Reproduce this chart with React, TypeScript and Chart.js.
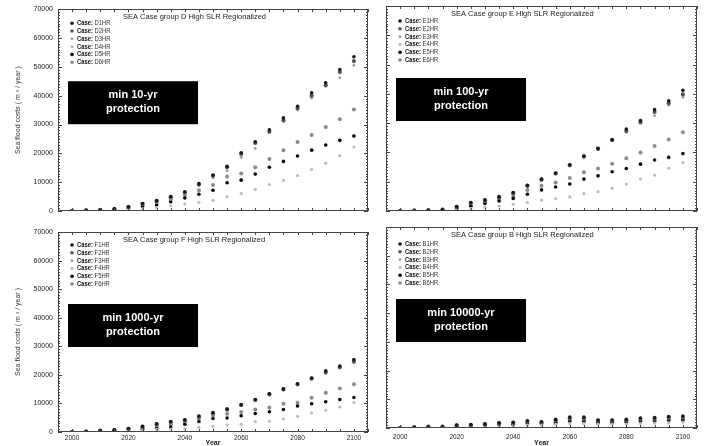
import React, { useEffect, useRef } from 'react';
import { Chart, registerables } from 'chart.js';

Chart.register(...registerables);

// ---------- data ----------
const years = [2000, 2005, 2010, 2015, 2020, 2025, 2030, 2035, 2040, 2045, 2050, 2055, 2060, 2065, 2070, 2075, 2080, 2085, 2090, 2095, 2100];
const xTickLabels = [2000, 2020, 2040, 2060, 2080, 2100];
const yTickLabels = [0, 10000, 20000, 30000, 40000, 50000, 60000, 70000];

const d1HR = [0, 200, 400, 800, 1500, 2600, 3600, 5000, 6700, 9500, 12500, 15500, 20200, 24000, 28200, 32300, 36300, 41000, 44500, 49100, 53500];
const d2HR = [0, 200, 400, 700, 1400, 2500, 3400, 4800, 6400, 9200, 12200, 15200, 19800, 23600, 27500, 31500, 35600, 40000, 43600, 48200, 52000];
const d3HR = [0, 150, 300, 600, 1200, 2200, 2900, 4000, 5700, 8800, 11500, 14000, 18600, 21700, 27200, 31000, 35000, 39200, 43300, 46200, 50500];
const d4HR = [0, 50, 150, 300, 600, 800, 1200, 1800, 2400, 3000, 3700, 5000, 6000, 7500, 9200, 10600, 12300, 14400, 16600, 19200, 22200];
const d5HR = [0, 100, 250, 500, 900, 1500, 2100, 3200, 4500, 5800, 7200, 9800, 10700, 12800, 15200, 17200, 19100, 21100, 22900, 24500, 26000];
const d6HR = [0, 150, 300, 600, 1100, 2000, 2900, 4000, 5500, 7200, 9000, 12000, 13000, 15200, 18000, 21100, 23900, 26400, 29100, 31800, 35200];

const e1HR = [0, 100, 300, 500, 1500, 2900, 3800, 4900, 6300, 8800, 10900, 13000, 15800, 18800, 21400, 24400, 28000, 30900, 34600, 37600, 41200];
const e2HR = [0, 100, 250, 500, 1400, 2700, 3600, 4700, 6100, 8600, 10700, 12800, 15600, 18600, 21200, 24200, 27300, 30300, 33800, 36800, 39800];
const e3HR = [0, 80, 200, 400, 1200, 2400, 3300, 4400, 5800, 8300, 10400, 12600, 15400, 18400, 21000, 24000, 26900, 29900, 32600, 36200, 38800];
const e4HR = [0, 30, 100, 200, 500, 900, 1300, 1700, 2300, 2900, 3700, 4200, 4800, 5900, 6600, 7800, 9200, 10900, 12200, 14600, 16500];
const e5HR = [0, 60, 150, 300, 700, 1600, 2600, 3400, 4300, 5700, 7200, 8200, 9200, 10900, 12000, 13400, 14500, 16000, 17400, 18300, 19600];
const e6HR = [0, 80, 200, 400, 1000, 1900, 3000, 4000, 5100, 7200, 8600, 9700, 11300, 13200, 14500, 16100, 18000, 20000, 22200, 24400, 26900];

const f1HR = [0, 200, 500, 800, 1200, 2000, 2900, 3700, 4300, 5600, 6800, 8050, 9600, 11400, 13400, 15100, 16900, 18900, 21400, 23100, 25400];
const f2HR = [0, 150, 450, 700, 1100, 1800, 2700, 3500, 4100, 5300, 6600, 7900, 9400, 11200, 13200, 14900, 16700, 18700, 20900, 22700, 24700];
const f3HR = [0, 120, 400, 600, 1000, 1600, 2400, 3200, 3800, 5000, 6300, 7700, 9200, 11000, 13000, 14700, 16500, 18500, 20400, 22400, 24200];
const f4HR = [0, 50, 150, 250, 400, 600, 900, 1000, 1100, 1700, 2000, 2500, 2700, 3600, 3800, 4600, 5500, 6650, 7600, 8750, 10300];
const f5HR = [0, 100, 300, 500, 800, 1000, 1200, 1750, 2700, 3700, 4700, 4900, 5700, 6500, 7100, 7900, 9100, 9900, 10600, 11400, 12100];
const f6HR = [0, 120, 350, 600, 900, 1300, 2000, 2700, 3400, 4800, 5800, 6400, 7000, 7900, 8600, 9900, 10200, 12000, 13700, 15200, 16700];

const b1HR = [0, 300, 500, 500, 1000, 1200, 1500, 1800, 2000, 2500, 2200, 3000, 3800, 3800, 2800, 2800, 3000, 3500, 3600, 4000, 4200];
const b2HR = [0, 250, 450, 450, 900, 1000, 1300, 1600, 1800, 2200, 2000, 2700, 3400, 3400, 2500, 2500, 2700, 3200, 3300, 3700, 3800];
const b3HR = [0, 200, 400, 400, 800, 900, 1200, 1400, 1600, 2000, 1800, 2400, 3000, 3000, 2300, 2300, 2500, 2900, 3000, 3300, 3400];
const b4HR = [0, 100, 200, 200, 400, 500, 600, 700, 800, 1000, 1000, 1300, 1500, 1500, 1300, 1300, 1400, 1600, 1700, 1800, 2000];
const b5HR = [0, 200, 350, 350, 700, 800, 1000, 1200, 1300, 1700, 1600, 2000, 2600, 2600, 2000, 2000, 2200, 2500, 2600, 2900, 3000];
const b6HR = [0, 150, 300, 300, 600, 700, 900, 1100, 1200, 1500, 1400, 1800, 2300, 2300, 1800, 1800, 2000, 2200, 2300, 2500, 2700];

const yTitle = 'Sea flood costs ( m \u00B3 / year )';
const xTitle = 'Year';

// ---------- styles ----------
const markerStyles = [
  { color: '#1a1a1a', radius: 1.8 },
  { color: '#555555', radius: 2.1 },
  { color: '#999999', radius: 1.4 },
  { color: '#bbbbbb', radius: 1.6 },
  { color: '#000000', radius: 1.8 },
  { color: '#8a8a8a', radius: 2.0 },
];

const FONT = "'Liberation Sans', Arial, sans-serif";

type Panel = {
  key: string;
  title: string;
  boxLines: string[];
  labels: string[];
  series: number[][];
  left: number; top: number; width: number; height: number;
  pad: { left: number; right: number; top: number; bottom: number };
  showX: boolean; showY: boolean;
  yWidth: number; xHeight: number;
  xTickPad: number;
  legendTop: number;
};

const panels: Panel[] = [
  {
    key: 'D', title: 'SEA Case group D High SLR Regionalized', boxLines: ['min 10-yr', 'protection'],
    labels: ['D1HR', 'D2HR', 'D3HR', 'D4HR', 'D5HR', 'D6HR'],
    series: [d1HR, d2HR, d3HR, d4HR, d5HR, d6HR],
    left: 0, top: 0, width: 372, height: 222,
    pad: { left: 0, right: 4, top: 7, bottom: 11 }, showX: false, showY: true, yWidth: 58, xHeight: 0, xTickPad: 2, legendTop: 14,
  },
  {
    key: 'E', title: 'SEA Case group E High SLR Regionalized', boxLines: ['min 100-yr', 'protection'],
    labels: ['E1HR', 'E2HR', 'E3HR', 'E4HR', 'E5HR', 'E6HR'],
    series: [e1HR, e2HR, e3HR, e4HR, e5HR, e6HR],
    left: 372, top: 0, width: 341, height: 222,
    pad: { left: 14, right: 16, top: 6, bottom: 11 }, showX: false, showY: false, yWidth: 0, xHeight: 0, xTickPad: 2, legendTop: 15,
  },
  {
    key: 'F', title: 'SEA Case group F High SLR Regionalized', boxLines: ['min 1000-yr', 'protection'],
    labels: ['F1HR', 'F2HR', 'F3HR', 'F4HR', 'F5HR', 'F6HR'],
    series: [f1HR, f2HR, f3HR, f4HR, f5HR, f6HR],
    left: 0, top: 222, width: 372, height: 224,
    pad: { left: 0, right: 4, top: 10, bottom: 0 }, showX: true, showY: true, yWidth: 58, xHeight: 14, xTickPad: 2, legendTop: 13,
  },
  {
    key: 'B', title: 'SEA Case group B High SLR Regionalized', boxLines: ['min 10000-yr', 'protection'],
    labels: ['B1HR', 'B2HR', 'B3HR', 'B4HR', 'B5HR', 'B6HR'],
    series: [b1HR, b2HR, b3HR, b4HR, b5HR, b6HR],
    left: 372, top: 222, width: 341, height: 224,
    pad: { left: 14, right: 16, top: 5, bottom: 0 }, showX: true, showY: false, yWidth: 0, xHeight: 18, xTickPad: 5, legendTop: 17,
  },
];

const decorPlugin = {
  id: 'decor',
  afterDraw(chart: any, _args: any, opts: any) {
    const { ctx, chartArea: a, scales } = chart;
    const xs = scales.x, ys = scales.y;
    ctx.save();
    // frame
    ctx.strokeStyle = '#444';
    ctx.lineWidth = 1;
    ctx.strokeRect(Math.round(a.left) + 0.5, Math.round(a.top) + 0.5, Math.round(a.right - a.left) - 1, Math.round(a.bottom - a.top) - 1);
    // inward ticks
    ctx.beginPath();
    for (let v = 1995; v <= 2105; v += 5) {
      const px = Math.round(xs.getPixelForValue(v)) + 0.5;
      ctx.moveTo(px, a.bottom); ctx.lineTo(px, a.bottom - 3);
      ctx.moveTo(px, a.top); ctx.lineTo(px, a.top + 3);
    }
    for (let v = 0; v <= 70000; v += 1000) {
      const py = Math.round(ys.getPixelForValue(v)) + 0.5;
      const len = v % 10000 === 0 ? 4 : 2;
      ctx.moveTo(a.left, py); ctx.lineTo(a.left + len, py);
      ctx.moveTo(a.right, py); ctx.lineTo(a.right - len, py);
    }
    ctx.stroke();

    // panel title
    ctx.fillStyle = '#222';
    ctx.font = `7.5px ${FONT}`;
    ctx.textBaseline = 'middle';
    ctx.textAlign = 'left';
    ctx.fillText(opts.title, a.left + 65, a.top + 8);

    // legend
    chart.data.datasets.forEach((ds: any, i: number) => {
      const mx = a.left + 14;
      const my = a.top + opts.legendTop + i * 7.8;
      ctx.beginPath();
      ctx.fillStyle = ds.backgroundColor;
      ctx.arc(mx, my, Math.min(ds.pointRadius, 1.8), 0, Math.PI * 2);
      ctx.fill();
      ctx.save();
      ctx.translate(mx + 5, my);
      ctx.scale(0.78, 1);
      ctx.fillStyle = '#111';
      ctx.font = `bold 7.5px ${FONT}`;
      ctx.fillText('Case:', 0, 0);
      const w = ctx.measureText('Case: ').width;
      ctx.font = `7.5px ${FONT}`;
      ctx.fillStyle = '#333';
      ctx.fillText(ds.label, w, 0);
      ctx.restore();
    });

    // black annotation box
    const bx = a.left + 10, by = a.top + 72, bw = 130, bh = 43;
    ctx.fillStyle = '#000';
    ctx.fillRect(bx, by, bw, bh);
    ctx.fillStyle = '#fff';
    ctx.font = `bold 11px ${FONT}`;
    ctx.textAlign = 'center';
    opts.boxLines.forEach((t: string, i: number) => {
      ctx.fillText(t, bx + bw / 2, by + 14 + i * 14);
    });
    ctx.restore();
  },
};

function PanelChart({ p }: { p: Panel }) {
  const ref = useRef<HTMLCanvasElement | null>(null);
  useEffect(() => {
    if (!ref.current) return;
    const chart = new Chart(ref.current, {
      type: 'scatter',
      data: {
        datasets: p.series.map((s, i) => ({
          label: p.labels[i],
          data: years.map((yr, j) => ({ x: yr, y: s[j] })),
          backgroundColor: markerStyles[i].color,
          borderColor: markerStyles[i].color,
          borderWidth: 0,
          pointRadius: markerStyles[i].radius,
          pointHoverRadius: markerStyles[i].radius,
          showLine: false,
        })),
      },
      options: {
        responsive: false,
        animation: false,
        events: [],
        layout: { padding: p.pad },
        plugins: {
          legend: { display: false },
          tooltip: { enabled: false },
          title: { display: false },
          decor: { title: p.title, boxLines: p.boxLines, legendTop: p.legendTop },
        } as any,
        scales: {
          x: {
            type: 'linear',
            min: 1995,
            max: 2105,
            display: p.showX,
            grid: { display: false, drawTicks: false },
            border: { display: false },
            afterBuildTicks: (scale: any) => { scale.ticks = xTickLabels.map((v) => ({ value: v })); },
            afterFit: (scale: any) => { if (p.showX) scale.height = p.xHeight; },
            ticks: {
              font: { family: FONT, size: 6.5 },
              color: '#222',
              padding: p.xTickPad,
              maxRotation: 0,
              autoSkip: false,
              callback: (v: any) => String(v),
            },
            title: {
              display: true,
              text: xTitle,
              font: { family: FONT, size: 7, weight: 'bold' },
              color: '#222',
              padding: { top: 0, bottom: -1.5 },
            },
          },
          y: {
            type: 'linear',
            min: 0,
            max: 70000,
            display: p.showY,
            grid: { display: false, drawTicks: false },
            border: { display: false },
            afterBuildTicks: (scale: any) => { scale.ticks = yTickLabels.map((v) => ({ value: v })); },
            afterFit: (scale: any) => { if (p.showY) scale.width = p.yWidth; },
            ticks: {
              font: { family: FONT, size: 7 },
              color: '#222',
              padding: 5,
              autoSkip: false,
              callback: (v: any) => String(v),
            },
            title: {
              display: true,
              text: yTitle,
              font: { family: FONT, size: 7 },
              color: '#333',
              padding: { top: 14, bottom: 0 },
            },
          },
        },
      },
      plugins: [decorPlugin as any],
    });
    return () => chart.destroy();
  }, [p]);
  return (
    <canvas
      ref={ref}
      width={p.width}
      height={p.height}
      style={{ position: 'absolute', left: p.left, top: p.top, width: p.width, height: p.height }}
    />
  );
}

export default function App() {
  return (
    <div style={{ position: 'absolute', left: 0, top: 0, width: 713, height: 446, background: '#fff', overflow: 'hidden' }}>
      {panels.map((p) => (
        <PanelChart key={p.key} p={p} />
      ))}
    </div>
  );
}
